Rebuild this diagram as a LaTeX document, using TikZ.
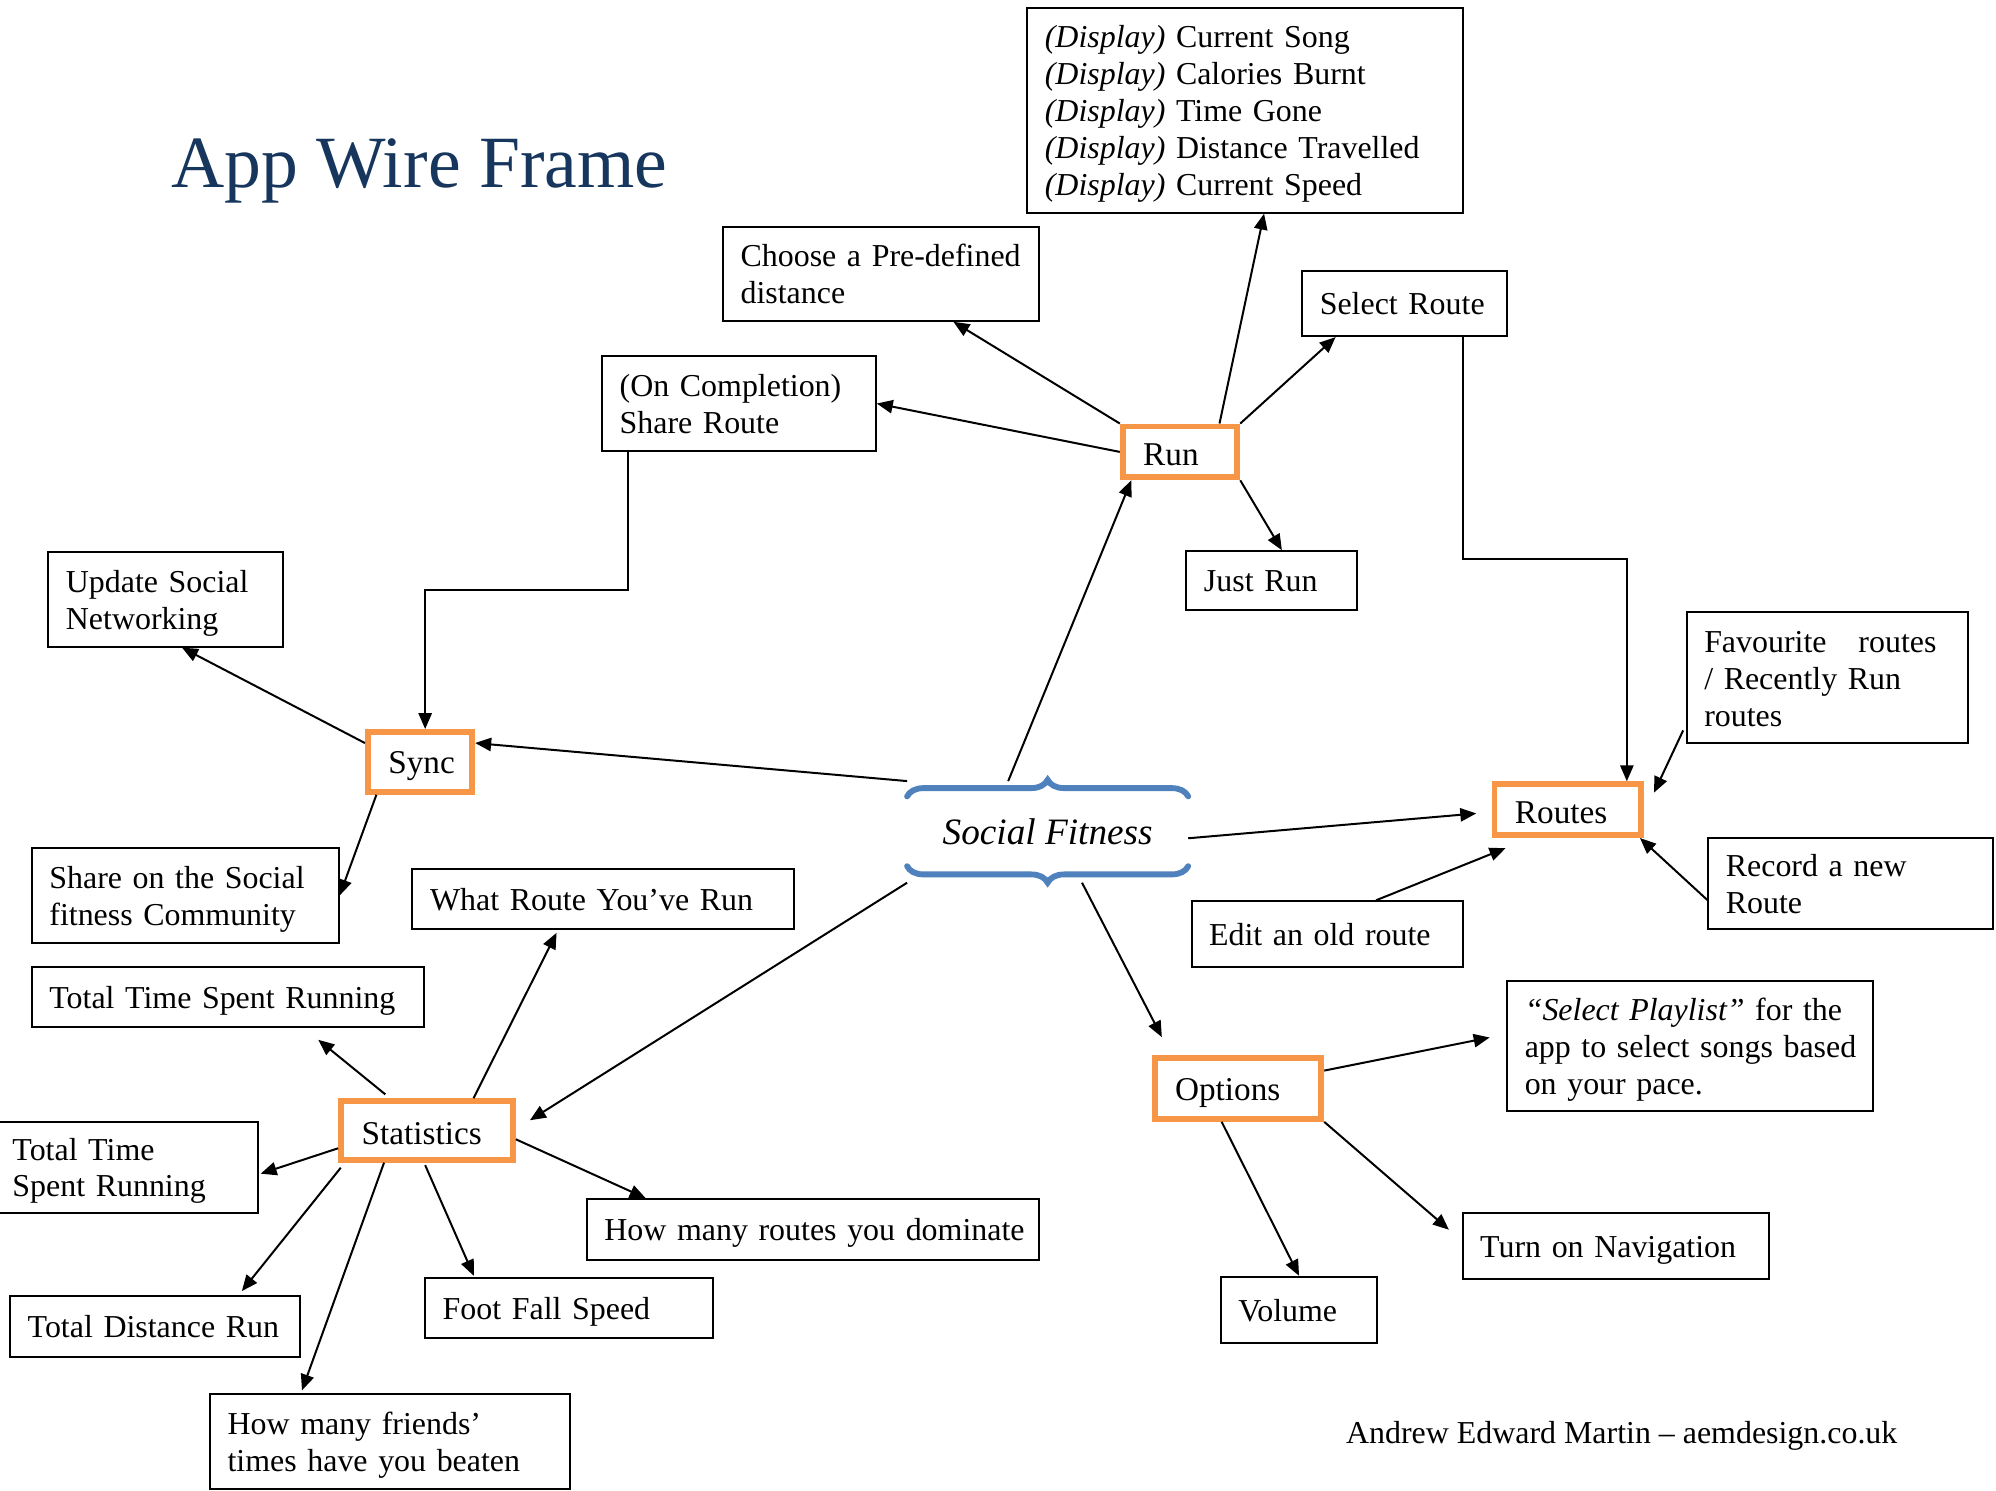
\documentclass[tikz,border=0pt]{standalone}
\usepackage{fontspec}
\setmainfont{Liberation Serif}
\usetikzlibrary{calc,arrows.meta,decorations.pathreplacing}
\definecolor{titleblue}{HTML}{17365D}
\definecolor{boxorange}{HTML}{F79646}
\definecolor{bracblue}{HTML}{4F81BD}
\newdimen\px \px=0.4786pt
\newcommand\boxfont{\fontsize{12}{13.9}\selectfont}
\tikzset{
  wbox/.style 2 args={draw, line width=0.75pt, minimum width=#1*\px, minimum height=#2*\px,
    text width=#1*\px-13.2pt, inner xsep=6.6pt, inner ysep=0pt, align=left, font=\boxfont,
    execute at begin node=\rule{0pt}{11.2pt}, execute at end node=\rule[-2.8pt]{0pt}{0pt}},
  obox/.style 2 args={draw=boxorange, line width=2.2pt, minimum width=#1*\px-4*\px, minimum height=#2*\px-4*\px,
    text width=#1*\px-4*\px-15.4pt, inner xsep=7.7pt, inner ysep=0pt, align=left, font=\fontsize{12.5}{14}\selectfont,
    execute at begin node=\rule{0pt}{11.4pt}, execute at end node=\rule[-1pt]{0pt}{0pt}},
  arr/.style={-{Triangle[width=5pt,length=6pt]}, line width=0.75pt},
  sfbrace/.style={draw=bracblue, line width=2.2pt, line cap=round, decorate, decoration={brace, amplitude=6.2pt}}
}
\begin{document}
\begin{tikzpicture}[x=\px,y=-\px]
  \path[fill=white] (0,0) rectangle (1568,1171);
  \useasboundingbox (0,0) rectangle (1568,1171);
  %Title
  \node[anchor=base west, inner sep=0, text=titleblue, font=\fontsize{27.7}{32}\selectfont] (title) at (134,147) {App Wire Frame};
  %Centre
  \node[minimum width=220*\px, minimum height=79*\px, inner sep=0, font=\fontsize{14}{16}\selectfont\itshape] (social) at (823,653.5) {Social Fitness};
  \draw[sfbrace] ($(social.north west)+(0,12)$) -- ($(social.north east)+(0,12)$);
  \draw[sfbrace, decoration={mirror}] ($(social.south west)+(0,-13)$) -- ($(social.south east)+(0,-13)$);
  %Orange boxes
  \node[obox={94}{44}] (run) at (927,355) {Run};
  \node[obox={86}{51}] (sync) at (330,598.5) {Sync};
  \node[obox={119}{44}] (routes) at (1231.5,636) {Routes};
  \node[obox={139}{50}] (stats) at (335.5,888) {Statistics};
  \node[obox={135}{52}] (options) at (972.5,855) {Options};
  %Run boxes
  \node[wbox={342}{161}] (disp) at (978,86.5) {\textit{(Display)} Current Song\\\textit{(Display)} Calories Burnt\\\textit{(Display)} Time Gone\\\textit{(Display)} Distance~Travelled\\\textit{(Display)} Current Speed};
  \node[wbox={248}{74}] (choose) at (692,215) {\mbox{Choose a Pre-defined}\\distance};
  \node[wbox={161}{51}] (selroute) at (1103.5,238.5) {Select Route};
  \node[wbox={215}{74}] (share) at (580.5,317) {(On Completion)\\Share Route};
  \node[wbox={134}{46}] (justrun) at (999,456) {Just Run};
  %Sync boxes
  \node[wbox={184}{74}] (update) at (130,471) {Update Social\\Networking};
  \node[wbox={241}{75}] (sharesoc) at (145.5,703.5) {\mbox{Share on the Social}\\fitness Community};
  %Routes boxes
  \node[wbox={221}{103}] (fav) at (1435.5,532.5) {Favourite\ \ \ routes\\/ Recently Run\\routes};
  \node[wbox={224}{72}] (record) at (1454,694) {Record a new\\Route};
  \node[wbox={213}{52}] (edit) at (1042.5,734) {Edit an old route};
  %Statistics boxes
  \node[wbox={300}{47}] (whatroute) at (474,706.5) {\mbox{What Route You’ve Run}};
  \node[wbox={308}{47}] (tottime) at (179,783.5) {\mbox{Total Time Spent Running}};
  \node[wbox={207}{72}] (tottime2) at (99.5,917) {Total Time\\Spent Running};
  \node[wbox={355}{48}] (dominate) at (638.5,966) {\mbox{How many routes you dominate}};
  \node[wbox={226}{47}] (footfall) at (447,1027.5) {Foot Fall Speed};
  \node[wbox={228}{48}] (totdist) at (122,1042) {Total Distance Run};
  \node[wbox={283}{75}] (friends) at (306.5,1132.5) {How many friends’\\\mbox{times have you beaten}};
  %Options boxes
  \node[wbox={287}{102}] (playlist) at (1327.5,822) {\mbox{\textit{“Select Playlist”} for the}\\\mbox{app to select songs based}\\on your pace.};
  \node[wbox={241}{52}] (nav) at (1269.5,979) {Turn on Navigation};
  \node[wbox={123}{52}] (volume) at (1020.5,1029) {Volume};
  %Credit
  \node[anchor=base west, inner sep=0, font=\boxfont] (credit) at (1057,1134) {Andrew Edward Martin – aemdesign.co.uk};
  %Arrows from Social Fitness
  \draw[arr] ($(social.north)+(-31,0)$) -- ($(run.south west)+(9,0)$);
  \draw[arr] (social.north west) -- ($(sync.north east)+(0,11)$);
  \draw[arr] ($(social.east)+(0,5)$) -- ($(routes.west)+(-12,3)$);
  \draw[arr] (social.south west) -- ($(stats.east)+(11,-8)$);
  \draw[arr] ($(social.south)+(27,0)$) -- ($(options.north west)+(8,-14)$);
  %Arrows from Run
  \draw[arr] (run.north west) -- ($(choose.south)+(57,0)$);
  \draw[arr] (run.west) -- (share.east);
  \draw[arr] ($(run.north)+(31,0)$) -- ($(disp.south)+(15,0)$);
  \draw[arr] (run.north east) -- ($(selroute.south west)+(27,0)$);
  \draw[arr] (run.south east) -- ($(justrun.north)+(8,0)$);
  %Elbow arrows
  \draw[arr] ($(share.south west)+(21,0)$) -- ++(0,109) -| ($(sync.north)+(4,0)$);
  \draw[arr] ($(selroute.south)+(45.5,0)$) -- ++(0,174) -| ($(routes.north)+(46.5,0)$);
  %Arrows of Sync
  \draw[arr] ($(sync.north west)+(0,11)$) -- ($(update.south)+(13,0)$);
  \draw[arr] ($(sync.south west)+(9,0)$) -- (sharesoc.east);
  %Arrows into Routes
  \draw[arr] ($(fav.south west)+(-2,-11)$) -- ($(routes.north east)+(8,9)$);
  \draw[arr] ($(record.west)+(0,13)$) -- ($(routes.south east)+(-3,0)$);
  \draw[arr] ($(edit.north)+(38.5,0)$) -- ($(routes.south west)+(11,8)$);
  %Arrows of Statistics
  \draw[arr] ($(stats.north)+(36.5,0)$) -- ($(whatroute.south west)+(114,2)$);
  \draw[arr] ($(stats.north west)+(37,-3)$) -- ($(tottime.south)+(71,9)$);
  \draw[arr] ($(stats.west)+(0,14)$) -- ($(tottime2.east)+(1,5)$);
  \draw[arr] ($(stats.south west)+(2,4)$) -- ($(totdist.north)+(68,-3)$);
  \draw[arr] ($(stats.south west)+(36,0)$) -- ($(friends.north west)+(73,-2)$);
  \draw[arr] ($(stats.south)+(-1.5,2)$) -- ($(footfall.north west)+(39,-1)$);
  \draw[arr] ($(stats.east)+(0,7)$) -- ($(dominate.north west)+(47,0)$);
  %Arrows of Options
  \draw[arr] ($(options.east)+(0,-14)$) -- ($(playlist.west)+(-13,-7)$);
  \draw[arr] (options.south east) -- ($(nav.west)+(-10,-13)$);
  \draw[arr] ($(options.south west)+(55,0)$) -- (volume.north);
\end{tikzpicture}
\end{document}
